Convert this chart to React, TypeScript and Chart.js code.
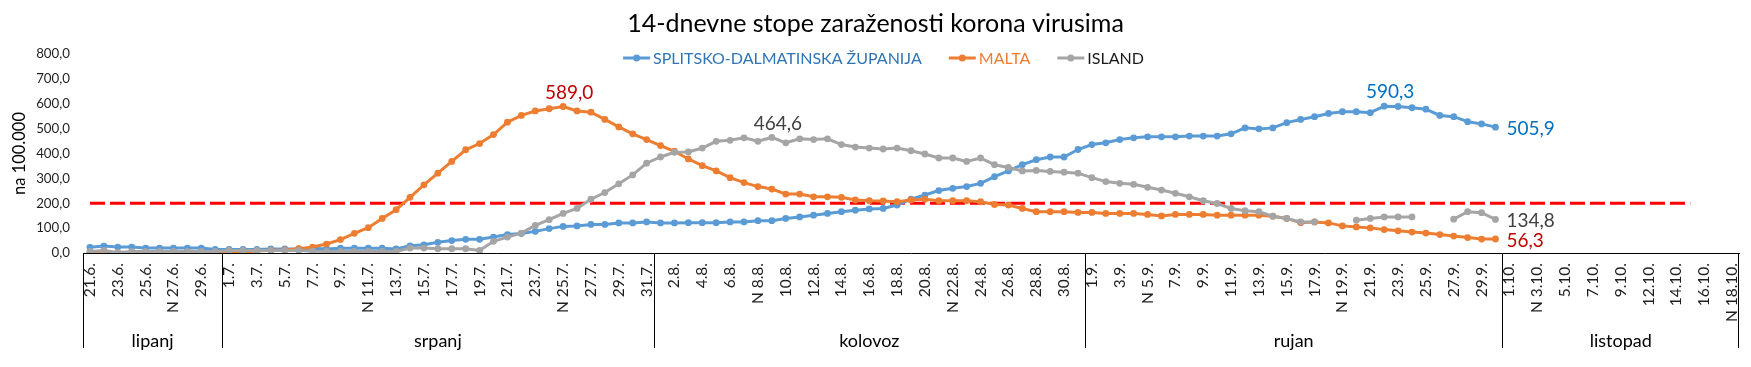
import React, { useEffect, useRef } from 'react';
import { Chart, registerables } from 'chart.js';

Chart.register(...registerables);

const FONT = 'Lato, "Noto Sans", sans-serif';

const chartTitle = '14-dnevne stope zaraženosti korona virusima';
const yAxisTitle = 'na 100.000';

const categories = [
  '21.6.', '22.6.', '23.6.', '24.6.', '25.6.', '26.6.', 'N 27.6.', '28.6.', '29.6.', '30.6.',
  '1.7.', '2.7.', '3.7.', '4.7.', '5.7.', '6.7.', '7.7.', '8.7.', '9.7.', '10.7.',
  'N 11.7.', '12.7.', '13.7.', '14.7.', '15.7.', '16.7.', '17.7.', '18.7.', '19.7.', '20.7.',
  '21.7.', '22.7.', '23.7.', '24.7.', 'N 25.7.', '26.7.', '27.7.', '28.7.', '29.7.', '30.7.', '31.7.',
  '1.8.', '2.8.', '3.8.', '4.8.', '5.8.', '6.8.', '7.8.', 'N 8.8.', '9.8.', '10.8.',
  '11.8.', '12.8.', '13.8.', '14.8.', '15.8.', '16.8.', '17.8.', '18.8.', '19.8.', '20.8.',
  '21.8.', 'N 22.8.', '23.8.', '24.8.', '25.8.', '26.8.', '27.8.', '28.8.', '29.8.', '30.8.', '31.8.',
  '1.9.', '2.9.', '3.9.', '4.9.', 'N 5.9.', '6.9.', '7.9.', '8.9.', '9.9.', '10.9.',
  '11.9.', '12.9.', '13.9.', '14.9.', '15.9.', '16.9.', '17.9.', '18.9.', 'N 19.9.', '20.9.',
  '21.9.', '22.9.', '23.9.', '24.9.', '25.9.', '26.9.', '27.9.', '28.9.', '29.9.', '30.9.',
  '1.10.', '2.10.', 'N 3.10.', '4.10.', '5.10.', '6.10.', '7.10.', '8.10.', '9.10.', '10.10.',
  '12.10.', '13.10.', '14.10.', '15.10.', '16.10.', '17.10.', 'N 18.10.',
];

const monthNames: Record<number, string> = {
  6: 'lipanj',
  7: 'srpanj',
  8: 'kolovoz',
  9: 'rujan',
  10: 'listopad',
};

const seriesNames = ['SPLITSKO-DALMATINSKA ŽUPANIJA', 'MALTA', 'ISLAND'];

const splitValues = [
  23, 28, 24, 24, 20, 20, 20, 20, 20, 14,
  14, 14, 14, 16, 16, 16, 19, 16, 19, 19,
  19, 19, 16, 29, 33, 43, 50, 55, 55, 64,
  74, 78, 87, 98, 107, 109, 115, 115, 121, 121,
  125, 121, 121, 122, 122, 122, 125, 125, 130, 130,
  139, 145, 152, 159, 166, 172, 177, 179, 193, 216,
  233, 251, 260, 267, 280, 307, 330, 355, 375, 386,
  386, 416, 436, 443, 456, 463, 467, 467, 467, 470,
  470, 470, 479, 503, 499, 503, 524, 537, 548, 561,
  568, 568, 564, 590.3, 589, 584, 578, 553, 548, 528,
  519, 505.9,
];

const maltaValues = [
  0, 2, 0, 0, 1, 1, 1, 1, 1, 2,
  3, 4, 8, 11, 12, 17, 24, 36, 54, 79,
  102, 139, 174, 224, 274, 321, 368, 415, 440, 476,
  526, 553, 571, 580, 589.0, 571, 566, 537, 507, 479,
  456, 432, 409, 378, 351, 330, 303, 283, 267, 257,
  237, 237, 226, 226, 224, 213, 210, 209, 206, 213,
  216, 210, 210, 210, 206, 195, 193, 179, 166, 166,
  166, 163, 163, 159, 159, 159, 155, 149, 155, 155,
  155, 152, 152, 152, 152, 148, 139, 122, 125, 121,
  109, 105, 101, 94, 89, 84, 80, 74, 68, 62,
  56, 56.3,
];

const islandValues = [
  6, 10, 2, 6, 6, 6, 6, 6, 6, 6,
  10, 10, 10, 10, 10, 10, 7, 6, 6, 6,
  6, 6, 6, 20, 20, 17, 17, 17, 10, 47,
  64, 80, 111, 134, 159, 179, 216, 243, 278, 314,
  361, 386, 405, 406, 422, 449, 453, 463, 449, 464.6,
  443, 459, 456, 459, 436, 426, 422, 418, 422, 411,
  398, 382, 382, 368, 382, 355, 344, 330, 332, 328,
  325, 321, 303, 287, 280, 276, 264, 253, 240, 226,
  210, 199, 179, 170, 166, 148, 139, 125, 125, null,
  null, 132, 139, 145, 145, 145, null, null, 136, 166,
  162, 134.8,
];

const thresholdValue = 200;
const thresholdFrom = '21.6.';
const thresholdTo = '15.10.';

const yMin = 0;
const yMax = 800;
const yStep = 100;

const seriesColors = ['#5B9BD5', '#ED7D31', '#A5A5A5'];
const legendTextColors = ['#2E75B6', '#ED7D31', '#1A1A1A'];
const calloutColors = ['#0070C0', '#C00000', '#404040'];

const callouts = [
  { series: 0, index: 93, place: 'above' },
  { series: 0, index: 101, place: 'right' },
  { series: 1, index: 34, place: 'above' },
  { series: 1, index: 101, place: 'right' },
  { series: 2, index: 49, place: 'above' },
  { series: 2, index: 101, place: 'right' },
];

const fmt = (v: number) => v.toFixed(1).replace('.', ',');

const monthOf = (label: string) => {
  const clean = label.replace(/^N\s*/, '');
  return parseInt(clean.split('.')[1], 10);
};

const overlayPlugin = {
  id: 'overlay',
  afterDraw(chart: any) {
    const ctx: CanvasRenderingContext2D = chart.ctx;
    const xs = chart.scales.x;
    const area = chart.chartArea;
    ctx.save();

    // Title
    ctx.font = `25px ${FONT}`;
    ctx.fillStyle = '#000';
    ctx.textAlign = 'center';
    ctx.textBaseline = 'middle';
    ctx.fillText(chartTitle, chart.width / 2, 16);

    // Legend
    ctx.font = `16px ${FONT}`;
    const markerW = 27;
    const markerGap = 3;
    const itemGap = 27;
    const widths = seriesNames.map((n) => ctx.measureText(n).width);
    const total = widths.reduce((a, w) => a + markerW + markerGap + w, 0) + itemGap * (seriesNames.length - 1);
    let lx = chart.width / 2 + 8 - total / 2;
    const ly = 50;
    seriesNames.forEach((name, i) => {
      ctx.strokeStyle = seriesColors[i];
      ctx.lineWidth = 3;
      ctx.beginPath();
      ctx.moveTo(lx, ly);
      ctx.lineTo(lx + markerW, ly);
      ctx.stroke();
      ctx.fillStyle = seriesColors[i];
      ctx.beginPath();
      ctx.arc(lx + markerW / 2, ly, 3.5, 0, Math.PI * 2);
      ctx.fill();
      ctx.fillStyle = legendTextColors[i];
      ctx.textAlign = 'left';
      ctx.textBaseline = 'middle';
      ctx.fillText(name, lx + markerW + markerGap, ly + 1);
      lx += markerW + markerGap + widths[i] + itemGap;
    });

    // Month level of the category axis
    const step = xs.getPixelForValue(1) - xs.getPixelForValue(0);
    const groups: { month: number; start: number; end: number }[] = [];
    categories.forEach((c, i) => {
      const m = monthOf(c);
      const last = groups[groups.length - 1];
      if (last && last.month === m) last.end = i;
      else groups.push({ month: m, start: i, end: i });
    });
    ctx.strokeStyle = '#000';
    ctx.lineWidth = 1;
    ctx.fillStyle = '#000';
    ctx.font = `18px ${FONT}`;
    ctx.textAlign = 'center';
    ctx.textBaseline = 'middle';
    const lineBottom = chart.height - 11;
    groups.forEach((g, gi) => {
      const left = xs.getPixelForValue(g.start) - step / 2;
      const right = xs.getPixelForValue(g.end) + step / 2;
      const lxp = Math.round(left) + 0.5;
      ctx.beginPath();
      ctx.moveTo(lxp, area.bottom);
      ctx.lineTo(lxp, lineBottom);
      ctx.stroke();
      if (gi === groups.length - 1) {
        const rxp = Math.round(right) - 0.5;
        ctx.beginPath();
        ctx.moveTo(rxp, area.bottom);
        ctx.lineTo(rxp, lineBottom);
        ctx.stroke();
      }
      ctx.fillText(monthNames[g.month], (left + right) / 2, chart.height - 18);
    });

    // Value callouts
    ctx.font = `19px ${FONT}`;
    callouts.forEach((c) => {
      const meta = chart.getDatasetMeta(c.series);
      const el = meta.data[c.index];
      const v = chart.data.datasets[c.series].data[c.index] as number;
      if (!el || v == null) return;
      ctx.fillStyle = calloutColors[c.series];
      ctx.textBaseline = 'middle';
      if (c.place === 'above') {
        ctx.textAlign = 'center';
        ctx.fillText(fmt(v), el.x + 6, el.y - 14);
      } else {
        ctx.textAlign = 'left';
        ctx.fillText(fmt(v), el.x + 11, el.y + 1.5);
      }
    });

    ctx.restore();
  },
};

export default function App() {
  const ref = useRef<HTMLCanvasElement | null>(null);

  useEffect(() => {
    if (!ref.current) return;
    const mk = (i: number, data: (number | null)[], order: number) => ({
      label: seriesNames[i],
      data,
      borderColor: seriesColors[i],
      backgroundColor: seriesColors[i],
      pointBackgroundColor: seriesColors[i],
      pointBorderColor: seriesColors[i],
      pointBorderWidth: 0,
      pointRadius: 3.4,
      borderWidth: 3,
      tension: 0,
      spanGaps: false,
      order,
    });
    const chart = new Chart(ref.current, {
      type: 'line',
      data: {
        labels: categories,
        datasets: [
          mk(0, splitValues, 2),
          mk(1, maltaValues, 1),
          mk(2, islandValues, 0),
          {
            label: 'prag',
            data: [
              { x: thresholdFrom, y: thresholdValue },
              { x: thresholdTo, y: thresholdValue },
            ] as any,
            borderColor: '#FF0000',
            borderWidth: 3,
            borderDash: [15, 5],
            pointRadius: 0,
            order: 3,
          },
        ],
      },
      options: {
        responsive: false,
        animation: false,
        events: [],
        layout: { padding: { top: 46, right: 1, left: 0, bottom: 0 } },
        plugins: {
          legend: { display: false },
          title: { display: false },
          tooltip: { enabled: false },
        },
        scales: {
          x: {
            type: 'category',
            offset: true,
            grid: { drawOnChartArea: false, drawTicks: false },
            border: { display: true, color: '#000', width: 1 },
            ticks: {
              autoSkip: false,
              minRotation: 90,
              maxRotation: 90,
              padding: 10,
              color: '#1F1F1F',
              font: { family: FONT, size: 15.5 },
              callback: (_v: any, idx: number) => (idx % 2 === 0 ? categories[idx] : ''),
            },
            afterFit: (scale: any) => {
              scale.height = 106;
              scale.paddingLeft = 0;
              scale.paddingRight = 0;
            },
          },
          y: {
            min: yMin,
            max: yMax,
            grid: { display: false, drawTicks: false },
            border: { display: false },
            ticks: {
              stepSize: yStep,
              padding: 13,
              color: '#1F1F1F',
              font: { family: FONT, size: 13.3 },
              callback: (v: any) => fmt(Number(v)),
            },
            title: {
              display: true,
              text: yAxisTitle,
              color: '#000',
              font: { family: FONT, size: 16.5 },
              padding: { top: 2, bottom: 0 },
            },
            afterFit: (scale: any) => {
              scale.width = 75;
              scale.paddingTop = 0;
              scale.paddingBottom = 0;
            },
          },
        },
      },
      plugins: [overlayPlugin],
    });
    return () => chart.destroy();
  }, []);

  return (
    <div style={{ width: 1735, height: 351 }}>
      <canvas ref={ref} width={1735} height={351} style={{ display: 'block', width: 1735, height: 351 }} />
    </div>
  );
}
